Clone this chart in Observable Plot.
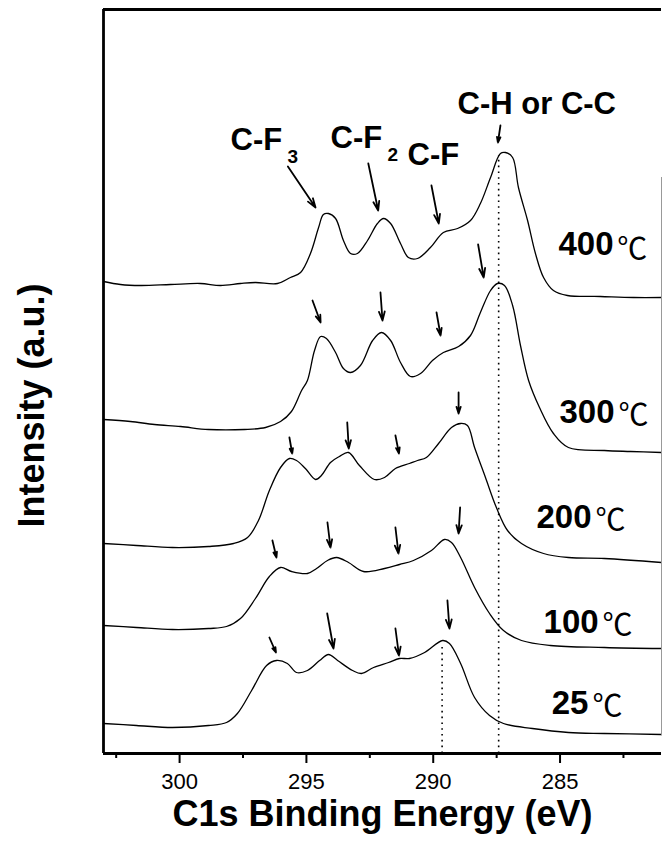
<!DOCTYPE html>
<html>
<head>
<meta charset="utf-8">
<script src="https://cdn.jsdelivr.net/npm/d3@7"></script>
<script src="https://cdn.jsdelivr.net/npm/@observablehq/plot@0.6"></script>
<style>
  html, body { margin: 0; padding: 0; background: #fff; }
  #chart svg { display: block; overflow: visible; }
</style>
</head>
<body>
<div id="chart"></div>
<script>
// ---- Data: C1s XPS spectra (binding energy in eV, intensity in a.u. incl. stacking offset)
const series = ["400", "300", "200", "100", "25"];

const e400 = [303.0, 302.33, 301.54, 300.36, 299.18, 298.39, 297.60, 297.01, 296.14, 295.63, 295.23, 294.84, 294.52, 294.33, 294.13, 293.85, 293.54, 293.26, 292.99, 292.59, 292.20, 291.96, 291.68, 291.29, 290.98, 290.62, 290.11, 289.60, 289.04, 288.53, 288.14, 287.74, 287.35, 287.15, 286.87, 286.64, 286.28, 285.97, 285.65, 285.26, 284.71, 283.41, 282.10, 281.0];
const i400 = [472, 469, 468, 469, 470, 468, 470, 471, 470, 476, 481, 500, 526, 539, 540, 535, 513, 500, 500, 513, 530, 535, 530, 510, 496, 495, 506, 521, 525, 533, 550, 576, 600, 601, 596, 566, 533, 500, 476, 463, 458, 457, 456, 456];

const e300 = [303.0, 301.94, 300.99, 299.96, 298.86, 297.44, 296.61, 296.02, 295.59, 295.19, 294.96, 294.68, 294.44, 294.21, 293.85, 293.54, 293.26, 292.87, 292.39, 292.04, 291.68, 291.29, 290.90, 290.50, 290.03, 289.60, 289.00, 288.53, 288.14, 287.74, 287.47, 287.19, 286.87, 286.56, 286.24, 285.81, 285.26, 284.67, 283.25, 282.22, 281.0];
const i300 = [334, 332, 329, 327, 324, 324, 326, 332, 342, 363, 373, 403, 417, 415, 401, 385, 381, 388, 413, 421, 413, 391, 377, 380, 393, 401, 407, 418, 441, 463, 470, 468, 448, 408, 373, 346, 320, 306, 303, 302, 301];

const e200 = [303.0, 301.70, 300.28, 298.86, 297.87, 297.32, 296.89, 296.46, 296.02, 295.67, 295.39, 295.04, 294.64, 294.41, 294.05, 293.70, 293.34, 292.91, 292.32, 291.92, 291.49, 290.94, 290.62, 290.27, 289.79, 289.28, 288.92, 288.65, 288.37, 287.94, 287.51, 287.07, 286.52, 285.65, 284.67, 283.25, 281.0];
const i200 = [210, 208, 206, 207, 210, 216, 233, 263, 286, 295, 293, 285, 274, 278, 291, 297, 301, 288, 274, 276, 285, 290, 293, 296, 310, 326, 330, 328, 306, 276, 246, 223, 210, 200, 196, 195, 191];

const e100 = [303.0, 301.70, 300.28, 298.86, 298.15, 297.60, 297.01, 296.46, 296.02, 295.59, 294.96, 294.60, 294.17, 293.81, 293.34, 292.75, 291.92, 291.33, 290.78, 290.07, 289.56, 289.28, 288.92, 288.37, 287.78, 287.23, 286.52, 285.38, 283.25, 281.0];
const i100 = [128, 126, 124, 125, 127, 135, 155, 177, 186, 182, 180, 185, 193, 196, 191, 182, 185, 189, 193, 203, 214, 211, 196, 166, 140, 123, 113, 108, 106, 105];

const e25 = [303.0, 301.70, 300.28, 298.86, 298.15, 297.72, 297.16, 296.57, 296.18, 295.75, 295.39, 294.96, 294.48, 294.13, 293.77, 293.18, 292.83, 292.35, 291.76, 291.33, 290.94, 290.34, 289.63, 289.36, 288.92, 288.37, 287.78, 287.23, 286.09, 284.67, 283.25, 281.0];
const i25 = [30, 28, 26, 28, 31, 40, 63, 88, 93, 90, 81, 83, 93, 99, 93, 83, 80, 86, 91, 95, 95, 101, 113, 110, 90, 56, 38, 30, 25, 21, 20, 19];

// Arrows (start -> tip) marking the C-F3, C-F2, C-F and C-H/C-C components
const arrowE1 = [295.73, 292.56, 290.07, 287.35, 294.76, 292.08, 289.87, 288.23, 295.67, 293.39, 291.49, 289.00, 296.34, 294.17, 291.49, 288.94, 296.46, 294.18, 291.49, 289.44];
const arrowI1 = [587, 590, 568, 628, 453, 461, 441, 509, 316, 331, 318, 361, 213, 231, 226, 246, 116, 140, 125, 153];
const arrowE2 = [294.64, 292.17, 289.78, 287.45, 294.44, 292.00, 289.71, 288.01, 295.56, 293.33, 291.35, 289.00, 296.18, 294.05, 291.37, 289.00, 296.20, 293.93, 291.35, 289.36];
const arrowI2 = [546, 543, 530, 611, 431, 433, 418, 476, 300, 305, 300, 340, 196, 206, 200, 220, 101, 105, 98, 125];

// Dotted reference lines
const dotE = [289.65, 287.42];
const dotTop = [108, 598];

// Peak labels
const peakText = ["C-F", "C-F", "C-F", "C-H or C-C"];
const peakE = [297.99, 294.05, 291.01, 289.04];
const peakI = [613, 615, 598, 649];
const subText = ["3", "2"];
const subE = [295.75, 291.80];
const subI = [597, 599];

// Temperature labels
const tempText = ["400", "300", "200", "100", "25"];
const tempE = [282.89, 282.85, 283.76, 283.48, 283.88];
const tempI = [509, 341, 236, 131, 50];
const degE = [282.74, 282.70, 283.60, 283.33, 283.72];
const degI = [504, 338, 233, 128, 47];

// Axis ticks
const majorTicks = [300, 295, 290, 285];
const minorTicks = [302.5, 297.5, 292.5, 287.5, 282.5];

// Partial right border (from the bottom tail up to the 400 °C curve)
const rightEdgeE = [281];
const rightEdgeLow = [18];
const rightEdgeHigh = [576];

// ---- Build tables
const energies = {"400": e400, "300": e300, "200": e200, "100": e100, "25": e25};
const intens = {"400": i400, "300": i300, "200": i200, "100": i100, "25": i25};
const spectra = series.flatMap(s => energies[s].map((e, k) => ({series: s, E: e, I: intens[s][k]})));
const arrows = arrowE1.map((e, k) => ({x1: e, y1: arrowI1[k], x2: arrowE2[k], y2: arrowI2[k]}));
const dots = dotE.map((e, k) => ({x: e, y1: 0, y2: dotTop[k]}));
const peaks = peakText.map((t, k) => ({t, x: peakE[k], y: peakI[k]}));
const subs = subText.map((t, k) => ({t, x: subE[k], y: subI[k]}));
const temps = tempText.map((t, k) => ({t, x: tempE[k], y: tempI[k]}));
const degs = tempText.map((t, k) => ({t: "\u2103", x: degE[k], y: degI[k]}));
const rightEdge = rightEdgeE.map((e, k) => ({x: e, y1: rightEdgeLow[k], y2: rightEdgeHigh[k]}));

const FONT = "'Liberation Sans', Arial, Helvetica, sans-serif";
const CJK = "'Noto Sans CJK SC', 'Noto Sans CJK JP', sans-serif";

const chart = Plot.plot({
  width: 662,
  height: 851,
  marginTop: 9,
  marginBottom: 98,
  marginLeft: 103,
  marginRight: 1,
  style: {fontFamily: FONT, background: "white", color: "black"},
  x: {domain: [303, 281]},
  y: {domain: [0, 744], axis: null},
  marks: [
    // dotted reference lines
    Plot.ruleX(dots, {x: "x", y1: "y1", y2: "y2", stroke: "black", strokeWidth: 1.6, strokeDasharray: "1.6,4.2"}),
    // spectra
    Plot.line(spectra, {x: "E", y: "I", z: "series", curve: "catmull-rom", stroke: "black", strokeWidth: 1.3}),
    // arrows
    Plot.arrow(arrows, {x1: "x1", y1: "y1", x2: "x2", y2: "y2", stroke: "black", strokeWidth: 1.8, headLength: 8, headAngle: 36}),
    // frame
    Plot.ruleX([303], {stroke: "black", strokeWidth: 2.8}),
    Plot.ruleX(rightEdge, {x: "x", y1: "y1", y2: "y2", stroke: "#999", strokeWidth: 1}),
    Plot.ruleY([744], {stroke: "black", strokeWidth: 2.8}),
    Plot.ruleY([0], {stroke: "black", strokeWidth: 2.8}),
    // x axis
    Plot.axisX({ticks: minorTicks, tickSize: 5, strokeWidth: 2, tickFormat: () => "", label: null}),
    Plot.axisX({ticks: majorTicks, tickSize: 10, strokeWidth: 2, tickPadding: 10, fontSize: 22, tickFormat: d => String(d), label: null}),
    // axis titles
    Plot.text(["C1s Binding Energy (eV)"], {frameAnchor: "bottom", dy: 61, fontSize: 36, fontWeight: "bold", fontFamily: FONT, textAnchor: "middle", lineAnchor: "middle"}),
    Plot.text(["Intensity (a.u.)"], {frameAnchor: "left", dx: -71, dy: 24, rotate: -90, fontSize: 36, fontWeight: "bold", fontFamily: FONT, textAnchor: "middle", lineAnchor: "middle"}),
    // peak labels
    Plot.text(peaks, {x: "x", y: "y", text: "t", textAnchor: "start", lineAnchor: "middle", fontSize: 31, fontWeight: "bold", fontFamily: FONT}),
    Plot.text(subs, {x: "x", y: "y", text: "t", textAnchor: "start", lineAnchor: "middle", fontSize: 19, fontWeight: "bold", fontFamily: FONT}),
    // temperature labels
    Plot.text(temps, {x: "x", y: "y", text: "t", textAnchor: "end", lineAnchor: "middle", fontSize: 33, fontWeight: "bold", fontFamily: FONT}),
    Plot.text(degs, {x: "x", y: "y", text: "t", textAnchor: "start", lineAnchor: "middle", fontSize: 30, fontWeight: "normal", fontFamily: CJK})
  ]
});

document.getElementById("chart").appendChild(chart);
</script>
</body>
</html>
